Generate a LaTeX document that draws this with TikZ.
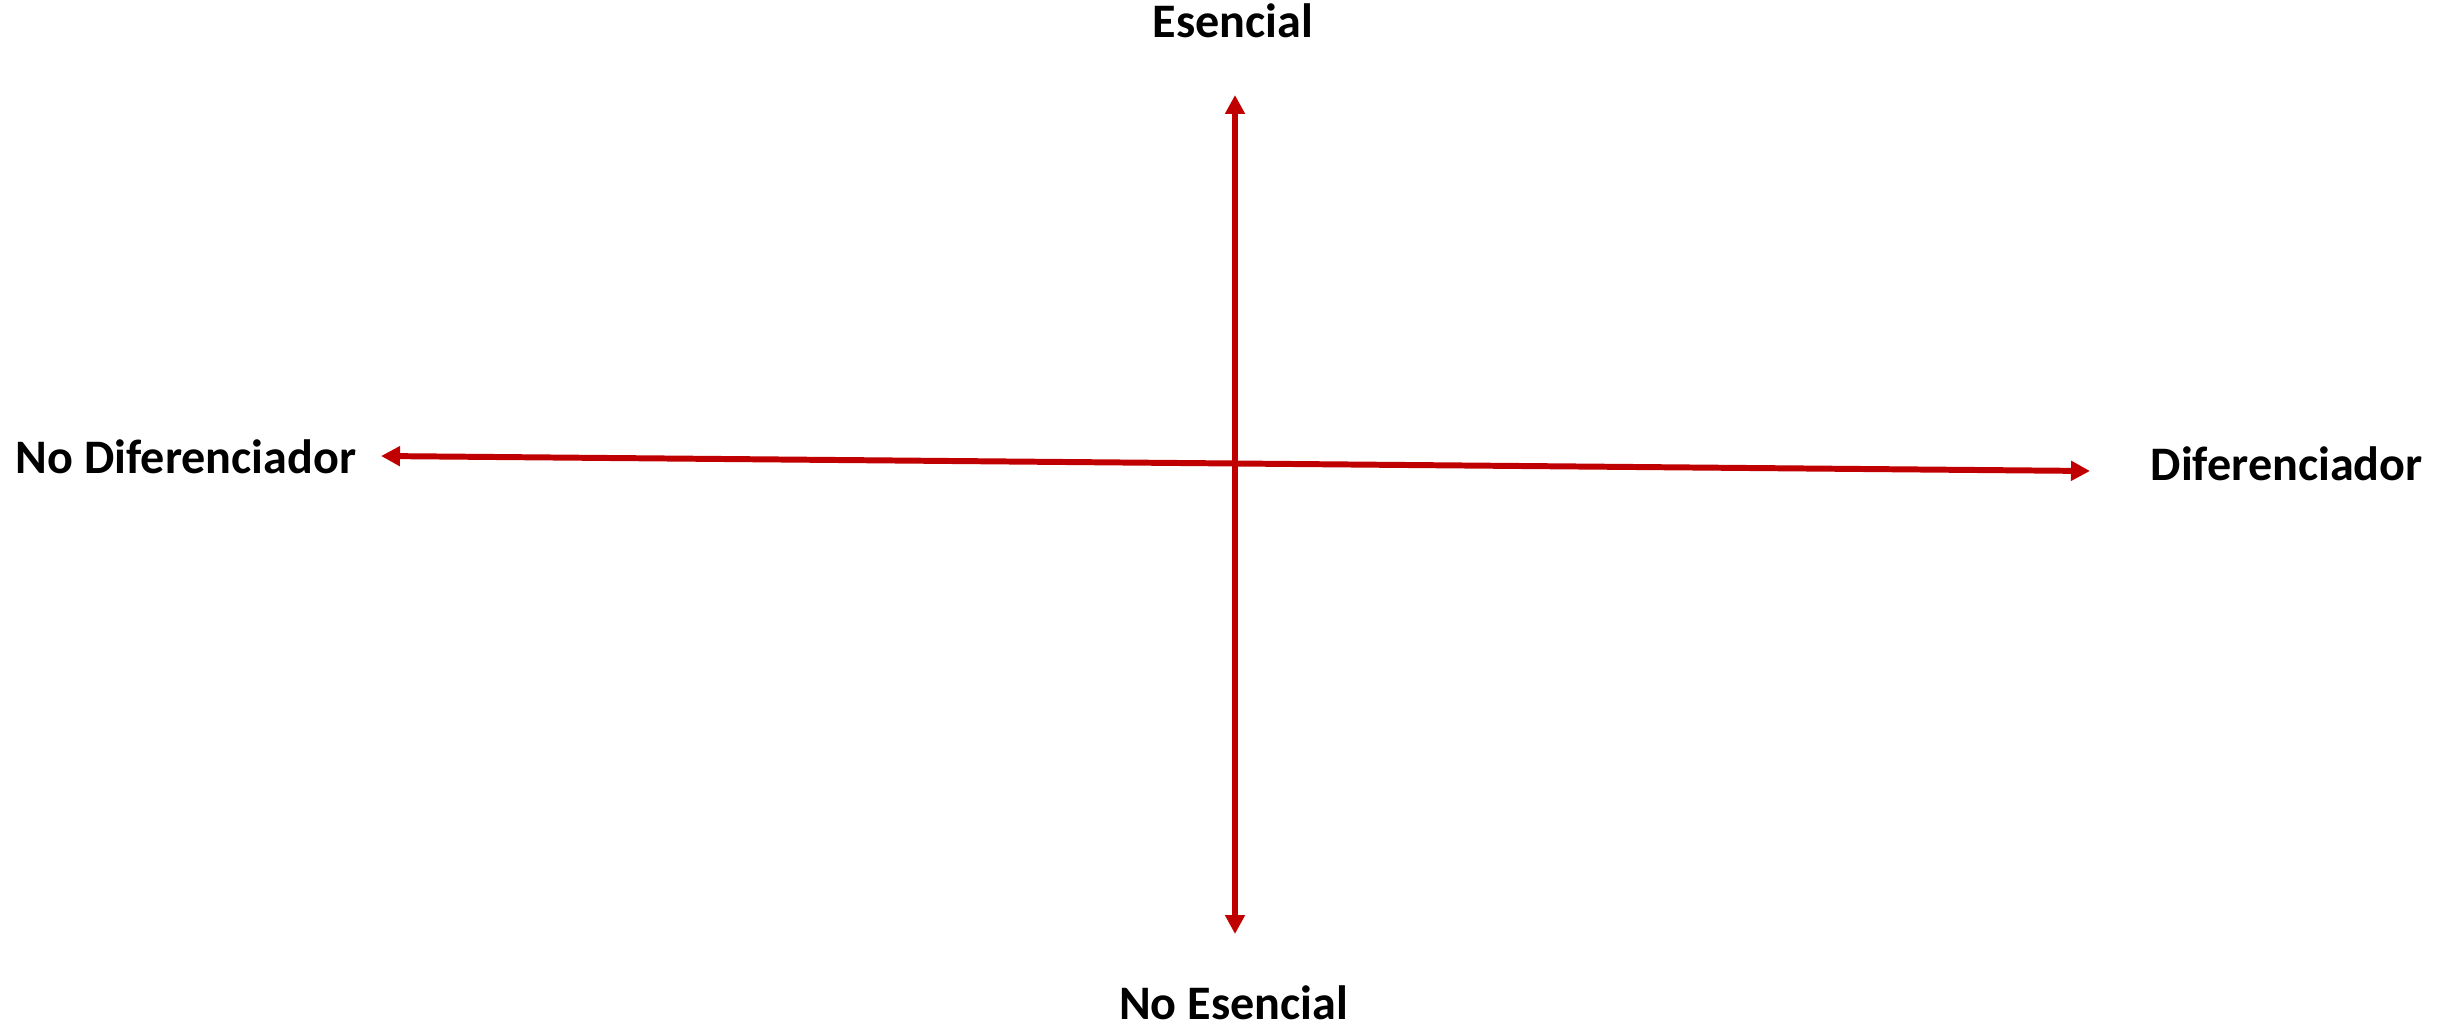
\documentclass[tikz,border=0pt]{standalone}
\usepackage{fontspec}
\setmainfont{Carlito}
\usepackage{xcolor}
\usepackage{tikz}
\usetikzlibrary{arrows.meta}

\definecolor{axisred}{HTML}{C00000}

\begin{document}
\begin{tikzpicture}[
      lbl/.style={inner sep=0pt, font=\bfseries\fontsize{13.7}{16}\selectfont},
      axis/.style={{Triangle[length=1.9mm, width=1.9mm]}-{Triangle[length=1.9mm, width=1.9mm]},
                   draw=axisred, line width=1.7pt}
    ]
    \useasboundingbox (0,0) rectangle (24.48,10.27);
    \coordinate (top) at (12.35,9.32);
    \coordinate (bot) at (12.35,0.93);
    \coordinate (lft) at (3.81,5.71);
    \coordinate (rgt) at (20.90,5.56);
    \node[lbl, anchor=base] (ess) at (12.33,9.89) {Esencial};
    \node[lbl, anchor=base] (noess) at (12.335,0.08) {No Esencial};
    \node[lbl, anchor=base west] (nodif) at (0.15,5.54) {No Diferenciador};
    \node[lbl, anchor=base west] (dif) at (21.50,5.47) {Diferenciador};
    \draw[axis] (bot) -- (top);
    \draw[axis] (lft) -- (rgt);
  \end{tikzpicture}
\end{document}
